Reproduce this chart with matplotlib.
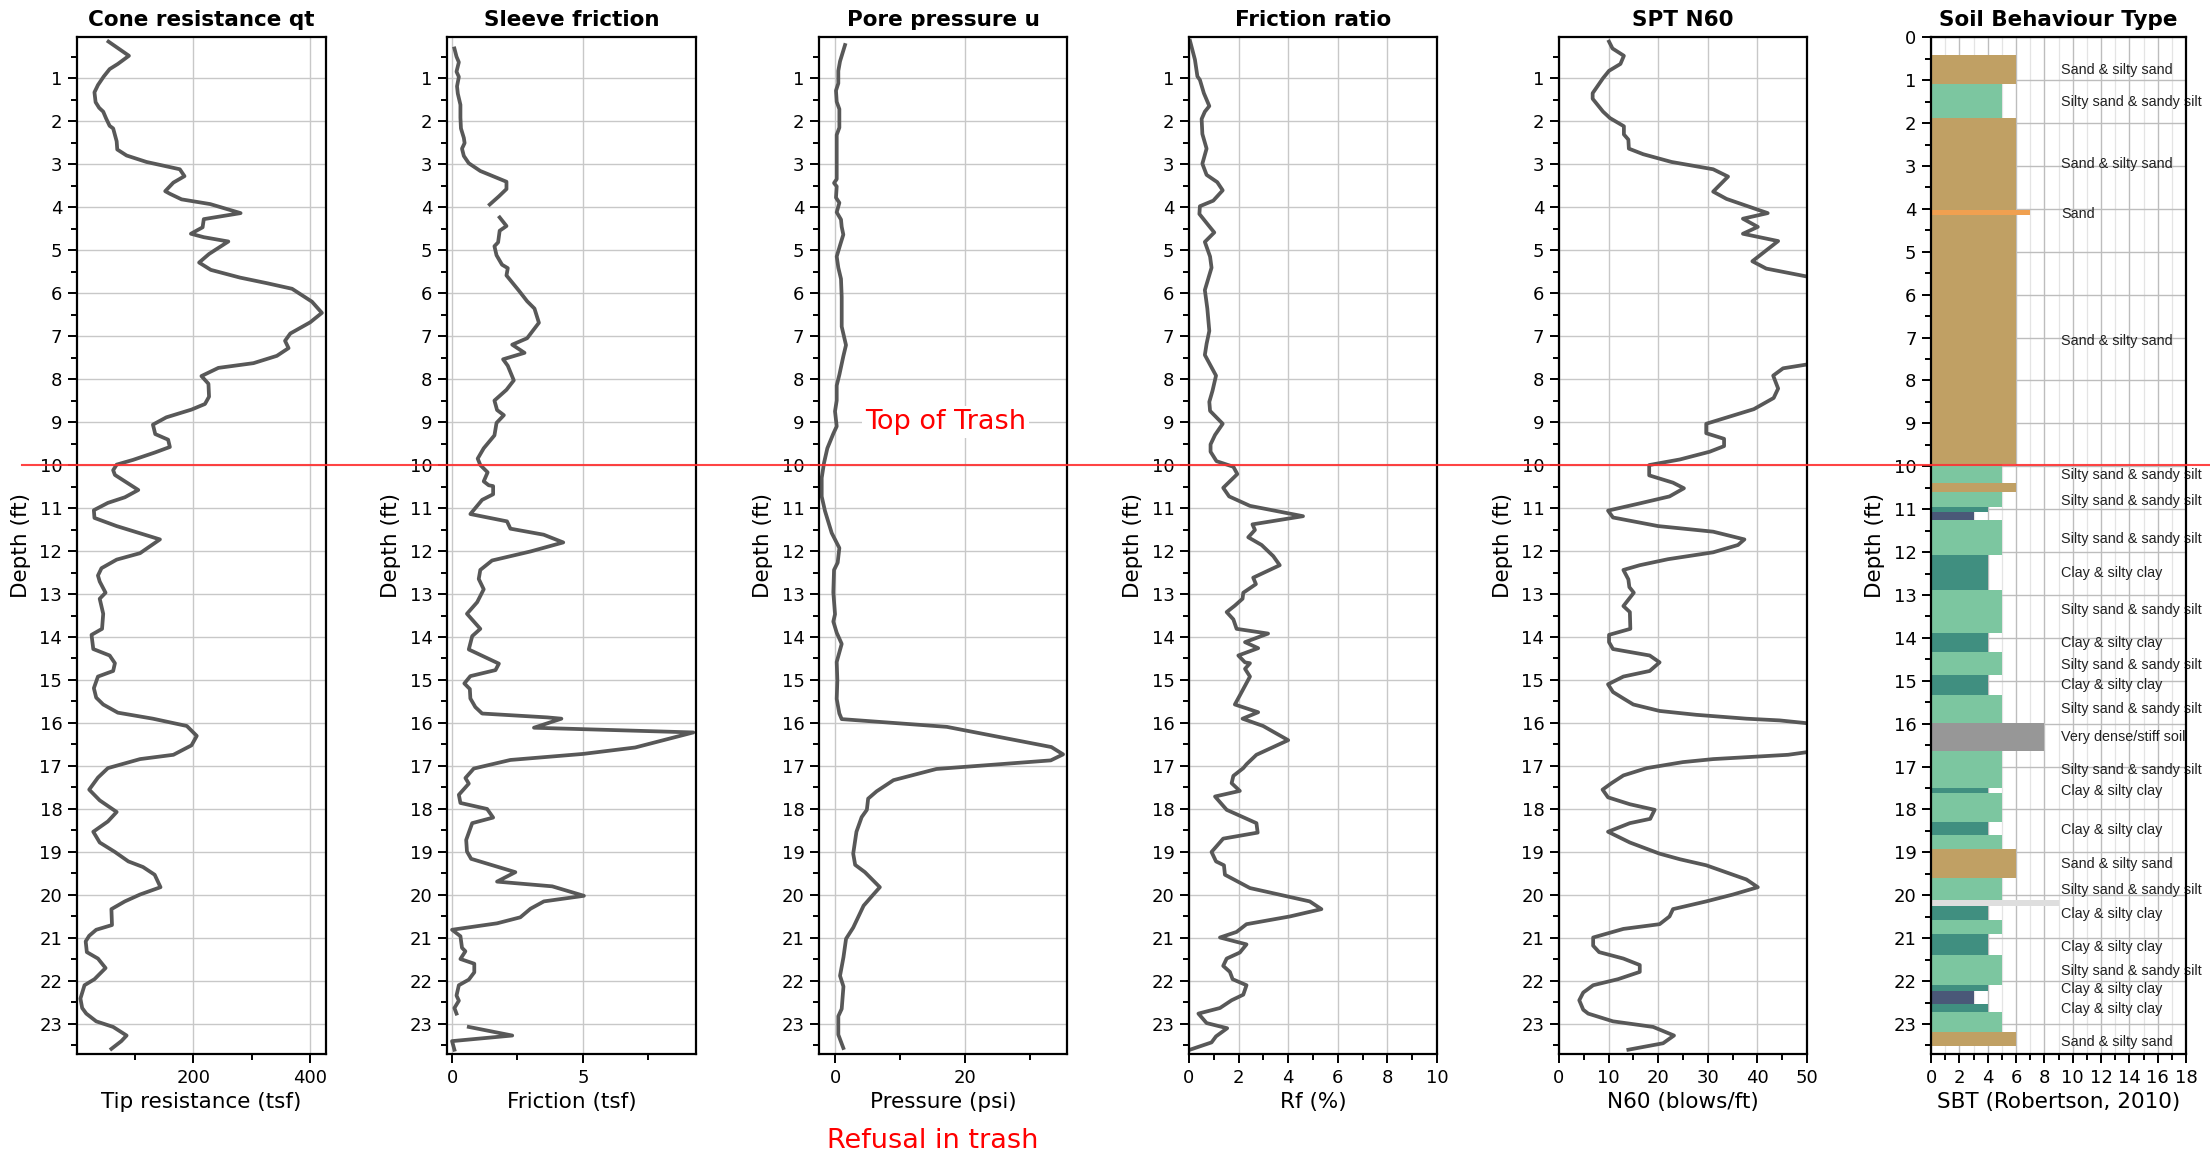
import numpy as np
import matplotlib
matplotlib.use("Agg")
import matplotlib.pyplot as plt
from matplotlib.ticker import MultipleLocator
from matplotlib.lines import Line2D

nan = np.nan

# Cone resistance qt (tsf)
qt_depth = [0.15, 0.48, 0.67, 0.79, 0.96, 1.16, 1.33, 1.56, 1.69, 1.78, 1.94, 2.11, 2.17, 2.47, 2.66,
            2.80, 2.95, 3.12, 3.28, 3.43, 3.63, 3.69, 3.82, 3.93, 4.14, 4.28, 4.47, 4.62, 4.70, 4.80,
            5.09, 5.29, 5.46, 5.64, 5.77, 5.90, 6.20, 6.46, 6.68, 6.94, 7.11, 7.28, 7.46, 7.63, 7.74,
            7.93, 8.11, 8.41, 8.58, 8.71, 8.89, 9.06, 9.28, 9.41, 9.58, 9.71, 9.88, 9.99, 10.12, 10.23,
            10.58, 10.75, 10.88, 11.05, 11.23, 11.42, 11.73, 12.05, 12.20, 12.40, 12.57, 12.71, 12.97,
            13.11, 13.46, 13.81, 13.95, 14.28, 14.43, 14.61, 14.79, 14.92, 15.19, 15.41, 15.57, 15.76,
            15.90, 16.07, 16.30, 16.52, 16.74, 16.84, 17.05, 17.27, 17.55, 17.80, 18.07, 18.29, 18.53,
            18.78, 19.00, 19.22, 19.35, 19.53, 19.82, 19.99, 20.15, 20.33, 20.70, 20.81, 20.95, 21.08,
            21.33, 21.48, 21.70, 21.96, 22.10, 22.41, 22.63, 22.76, 22.94, 23.07, 23.27, 23.40, 23.58]
qt_value = [55, 90, 71, 57, 47, 37, 31, 33, 39, 46, 51, 57, 63, 69, 70,
            86, 120, 177, 185, 166, 152, 160, 180, 229, 281, 218, 216, 196, 218, 260,
            227, 210, 230, 280, 326, 369, 403, 420, 400, 366, 357, 363, 343, 303, 243,
            214, 226, 227, 220, 197, 154, 131, 135, 157, 160, 134, 97, 69, 63, 66,
            106, 83, 54, 30, 31, 69, 143, 109, 69, 43, 37, 40, 50,
            40, 46, 44, 26, 29, 57, 66, 63, 37, 30, 34, 46, 71,
            131, 189, 206, 197, 166, 109, 54, 37, 22, 40, 69, 54, 29,
            40, 66, 89, 114, 134, 144, 109, 83, 60, 61, 34, 22, 16,
            18, 37, 50, 31, 14, 7, 10, 17, 34, 63, 86, 77, 60]

# Sleeve friction fs (tsf), nan = no reading
fs_depth = [0.31, 0.50, 0.63, 0.85, 0.97, 1.19, 1.36, 1.62, 1.92, 2.17, 2.39, 2.51, 2.64, 2.81, 2.98,
            3.16, 3.41, 3.58, 3.75, 3.94, 4.10, 4.24, 4.44, 4.55, 4.82, 4.91, 5.12, 5.34, 5.42, 5.59,
            5.94, 6.19, 6.36, 6.69, 7.05, 7.20, 7.39, 7.54, 7.69, 8.03, 8.25, 8.50, 8.72, 8.84, 9.02,
            9.31, 9.61, 9.85, 10.00, 10.17, 10.38, 10.47, 10.49, 10.68, 10.81, 11.14, 11.31, 11.48,
            11.62, 11.80, 12.01, 12.22, 12.44, 12.65, 12.89, 13.19, 13.46, 13.81, 13.98, 14.29, 14.62,
            14.77, 14.91, 15.08, 15.21, 15.43, 15.63, 15.78, 15.87, 15.90, 16.11, 16.22, 16.57, 16.72,
            16.86, 17.06, 17.28, 17.41, 17.67, 17.86, 18.00, 18.20, 18.33, 18.72, 18.99, 19.16, 19.47,
            19.69, 19.80, 20.02, 20.15, 20.32, 20.52, 20.66, 20.81, 20.96, 21.23, 21.31, 21.49, 21.60,
            21.80, 21.97, 22.10, 22.34, 22.46, 22.63, 22.76, 22.90, 23.07, 23.27, 23.40, 23.60]
fs_value = [0.09, 0.17, 0.26, 0.17, 0.26, 0.19, 0.22, 0.32, 0.32, 0.34, 0.45, 0.48, 0.38, 0.45, 0.64,
            1.08, 2.08, 2.08, 1.79, 1.44, nan, 1.82, 2.08, 1.82, 1.76, 1.62, 1.70, 1.91, 2.13, 2.08,
            2.55, 2.87, 3.15, 3.32, 2.87, 2.30, 2.77, 1.95, 2.13, 2.36, 2.08, 1.62, 1.72, 1.98, 1.70,
            1.62, 1.21, 0.98, 1.08, 1.36, 1.21, 1.40, 1.57, 1.57, 1.15, 0.70, 2.10, 2.23,
            3.50, 4.25, 3.00, 1.53, 1.08, 1.02, 1.21, 0.96, 0.57, 1.08, 0.77, 0.64, 1.79,
            1.66, 0.70, 0.47, 0.68, 0.70, 0.89, 1.15, 3.64, 4.18, 3.13, 9.22, 7.00, 5.00,
            2.23, 0.83, 0.51, 0.64, 0.26, 0.32, 1.34, 1.57, 0.77, 0.54, 0.57, 0.73, 2.42,
            1.72, 3.83, 5.04, 3.51, 3.00, 2.61, 1.72, 0.00, 0.32, 0.38, 0.51, 0.32, 0.85,
            0.85, 0.64, 0.26, 0.17, 0.26, 0.09, 0.17, nan, 0.64, 2.30, 0.00, 0.09]

# Pore pressure u (psi)
u_depth = [0.23, 0.61, 0.83, 1.12, 1.29, 1.55, 1.72, 2.15, 2.32, 2.66, 3.35, 3.44, 3.52, 3.78, 3.90,
           4.12, 4.29, 4.46, 4.64, 4.89, 5.15, 5.41, 5.67, 6.09, 6.78, 7.21, 7.47, 7.90, 8.15, 8.50,
           8.75, 9.10, 9.27, 9.61, 9.95, 10.30, 10.73, 11.07, 11.58, 11.93, 12.27, 12.44, 12.96, 13.47,
           13.64, 13.90, 14.16, 14.58, 15.01, 15.44, 15.78, 15.91, 16.09, 16.56, 16.73, 16.87, 17.07,
           17.33, 17.59, 17.76, 18.02, 18.19, 18.53, 19.04, 19.30, 19.47, 19.82, 19.99, 20.25, 20.76,
           21.02, 21.45, 21.88, 22.13, 22.65, 22.82, 23.25, 23.56]
u_value = [1.54, 0.77, 0.51, 0.51, 0.15, 0.26, 0.67, 0.67, 0.26, 0.26, 0.26, -0.15, 0.26, 0.15, 0.67,
           0.26, 0.92, 1.03, 1.28, 0.77, 0.26, 0.51, 0.92, 1.03, 1.03, 1.69, 1.28, 0.67, 0.26, 0.26,
           0.00, 0.26, -0.26, -1.18, -1.69, -2.05, -2.05, -1.54, -0.51, 0.67, 0.41, -0.15, -0.26, 0.00,
           -0.26, 0.26, 1.03, 0.26, 0.36, 0.26, 0.67, 1.03, 17.2, 33.3, 35.1, 33.2, 15.6,
           9.0, 6.4, 5.1, 4.9, 4.1, 3.3, 2.8, 3.1, 4.6, 6.9, 5.9, 4.4, 2.8,
           1.7, 1.3, 0.77, 1.3, 1.03, 0.51, 0.51, 1.28]

# Friction ratio Rf (%)
rf_depth = [0.13, 0.57, 0.96, 1.04, 1.35, 1.65, 1.78, 1.95, 2.30, 2.64, 2.99, 3.25, 3.42, 3.61, 3.85,
            3.98, 4.16, 4.42, 4.59, 4.81, 5.15, 5.41, 5.93, 6.36, 6.88, 7.18, 7.44, 7.92, 8.27, 8.53,
            8.74, 9.04, 9.30, 9.52, 9.69, 9.91, 10.04, 10.21, 10.53, 10.73, 10.95, 11.19, 11.38, 11.51,
            11.68, 11.86, 12.12, 12.33, 12.62, 12.77, 12.97, 13.11, 13.27, 13.42, 13.59, 13.81, 13.92,
            14.12, 14.26, 14.43, 14.59, 14.61, 14.74, 14.92, 15.36, 15.57, 15.75, 15.90, 16.07, 16.40,
            16.74, 16.96, 17.05, 17.23, 17.40, 17.58, 17.71, 18.02, 18.33, 18.55, 18.69, 19.00, 19.22,
            19.31, 19.53, 19.84, 20.15, 20.33, 20.50, 20.68, 20.86, 20.99, 21.15, 21.34, 21.48, 21.65,
            21.79, 21.96, 22.10, 22.32, 22.45, 22.63, 22.76, 22.98, 23.10, 23.29, 23.43, 23.60]
rf_value = [0.04, 0.24, 0.34, 0.44, 0.60, 0.82, 0.64, 0.51, 0.54, 0.71, 0.54, 0.71, 1.14, 1.36, 0.98,
            0.44, 0.42, 0.78, 1.02, 0.64, 0.85, 0.91, 0.64, 0.74, 0.82, 0.71, 0.64, 1.09, 0.95, 0.82,
            0.85, 1.36, 1.05, 0.87, 0.87, 1.11, 1.79, 1.95, 1.38, 1.62, 2.46, 4.60, 2.56, 2.66,
            2.39, 2.93, 3.40, 3.66, 2.59, 2.70, 2.19, 2.16, 1.85, 1.52, 1.79, 1.92, 3.19,
            2.26, 2.79, 1.99, 2.26, 2.46, 2.26, 2.46, 2.05, 1.85, 2.79, 2.16, 2.99, 4.00,
            2.72, 2.32, 2.19, 1.79, 1.72, 2.05, 1.05, 1.52, 2.72, 2.77, 1.38, 0.91, 1.09,
            1.41, 1.45, 2.46, 4.87, 5.34, 4.07, 2.32, 1.92, 1.25, 2.32, 2.05, 1.52, 1.38,
            1.65, 1.76, 2.32, 2.19, 1.72, 1.25, 0.38, 0.71, 1.54, 1.09, 0.91, 0.04]

# SPT N60 (blows/ft), readings above 50 run off the scale
n60_depth = [0.15, 0.31, 0.48, 0.67, 0.83, 1.00, 1.35, 1.48, 1.78, 1.93, 2.12, 2.31, 2.43, 2.64, 2.77,
             2.95, 3.12, 3.29, 3.64, 3.81, 4.14, 4.27, 4.46, 4.62, 4.79, 5.26, 5.43, 5.75, 6.10, 6.46,
             6.80, 7.20, 7.55, 7.75, 7.92, 8.22, 8.44, 8.70, 9.04, 9.26, 9.39, 9.56, 9.69, 9.87, 10.00,
             10.24, 10.41, 10.54, 10.73, 10.90, 11.06, 11.22, 11.42, 11.55, 11.73, 11.86, 12.03, 12.19,
             12.33, 12.44, 12.66, 12.84, 12.97, 13.28, 13.42, 13.81, 13.95, 14.12, 14.28, 14.43, 14.59,
             14.79, 14.92, 15.10, 15.28, 15.43, 15.57, 15.72, 15.81, 15.90, 15.94, 16.10, 16.30, 16.55,
             16.74, 16.84, 16.91, 17.05, 17.22, 17.40, 17.55, 17.73, 17.89, 18.02, 18.23, 18.33, 18.53,
             18.78, 19.04, 19.17, 19.31, 19.64, 19.82, 19.99, 20.15, 20.33, 20.50, 20.68, 20.79, 20.99,
             21.18, 21.33, 21.48, 21.63, 21.79, 21.96, 22.10, 22.27, 22.45, 22.67, 22.76, 22.94, 23.07,
             23.27, 23.45, 23.60]
n60_value = [10.1, 10.8, 13.1, 12.4, 10.1, 8.9, 6.8, 6.8, 8.9, 10.3, 13.1, 13.1, 14.0, 14.1, 17.0,
             22.7, 31.1, 34.1, 31.1, 33.8, 42.1, 37.1, 40.1, 37.1, 44.2, 39.0, 41.8, 56, 66, 72,
             68, 62, 56, 45.2, 43.2, 44.2, 43.3, 39.3, 29.7, 29.7, 33.3, 33.3, 30.4, 24.4, 18.2,
             18.2, 23.0, 25.2, 22.3, 16.0, 9.9, 10.9, 20.0, 31.1, 37.4, 36.1, 31.1, 22.0,
             16.3, 13.0, 14.0, 14.2, 15.1, 13.0, 14.3, 14.4, 10.1, 10.1, 10.9, 18.3, 20.3,
             18.3, 13.0, 9.9, 10.9, 13.0, 15.0, 20.3, 27.7, 37.8, 44.5, 58, 64, 58,
             46.2, 31.1, 25.0, 17.7, 13.0, 10.6, 8.8, 9.9, 14.3, 19.3, 18.4, 14.3, 9.9,
             14.3, 20.3, 24.4, 29.7, 37.8, 40.1, 35.1, 29.7, 23.0, 22.3, 20.3, 13.0, 6.9,
             6.9, 8.1, 13.0, 16.3, 16.3, 11.9, 6.9, 4.9, 4.1, 4.9, 5.9, 10.9, 19.0,
             23.2, 21.0, 14.0]

# Soil behaviour type layers (Robertson 2010 zone number)
sbt_top = [0.41, 1.085, 1.87, 4.02, 4.15, 9.94, 10.39, 10.6, 10.94, 11.07, 11.26, 12.07, 12.88,
           13.88, 14.32, 14.86, 15.32, 15.98, 16.64, 17.49, 17.62, 18.29, 18.6, 18.92, 19.6, 20.1,
           20.24, 20.57, 20.9, 21.4, 22.08, 22.22, 22.54, 22.73, 23.19]
sbt_base = sbt_top[1:] + [23.52]
sbt_zone = [6, 5, 6, 7, 6, 5, 6, 5, 4, 3, 5, 4, 5, 4, 5, 4, 5, 8, 5, 4, 5, 4, 5, 6, 5, 9,
            4, 5, 4, 5, 4, 3, 4, 5, 6]

sbt_label_depth = [0.76, 1.52, 2.95, 4.12, 7.07, 10.2, 10.81, 11.69, 12.49, 13.36, 14.11, 14.63,
                   15.10, 15.65, 16.32, 17.07, 17.58, 18.47, 19.27, 19.87, 20.44, 21.20, 21.76,
                   22.18, 22.65, 23.41]
sbt_label_text = ["Sand & silty sand", "Silty sand & sandy silt", "Sand & silty sand", "Sand",
                  "Sand & silty sand", "Silty sand & sandy silt", "Silty sand & sandy silt",
                  "Silty sand & sandy silt", "Clay & silty clay", "Silty sand & sandy silt",
                  "Clay & silty clay", "Silty sand & sandy silt", "Clay & silty clay",
                  "Silty sand & sandy silt", "Very dense/stiff soil", "Silty sand & sandy silt",
                  "Clay & silty clay", "Clay & silty clay", "Sand & silty sand",
                  "Silty sand & sandy silt", "Clay & silty clay", "Clay & silty clay",
                  "Silty sand & sandy silt", "Clay & silty clay", "Clay & silty clay",
                  "Sand & silty sand"]

trash_depth = 10.0

zone_colors = {3: '#4a5878', 4: '#408f80', 5: '#7cc6a0', 6: '#c0a064',
               7: '#f0a050', 8: '#979797', 9: '#dedede'}

line_color = '#585858'
grid_color = '#c8c8c8'

fig = plt.figure(figsize=(22.1, 11.58), dpi=100)

lefts = [0.0348, 0.2023, 0.3706, 0.5380, 0.7054, 0.8738]
widths = [0.1127, 0.1127, 0.1122, 0.1122, 0.1122, 0.1154]
bottom, height = 0.0898, 0.878

panels = [
    ("Cone resistance qt", "Tip resistance (tsf)", qt_depth, qt_value, (1, 427), 200, 100),
    ("Sleeve friction", "Friction (tsf)", fs_depth, fs_value, (-0.19, 9.33), 5, 2.5),
    ("Pore pressure u", "Pressure (psi)", u_depth, u_value, (-2.46, 35.7), 20, 10),
    ("Friction ratio", "Rf (%)", rf_depth, rf_value, (0, 10), 2, 1),
    ("SPT N60", "N60 (blows/ft)", n60_depth, n60_value, (0, 50), 10, 5),
]

axes = []
for i in range(6):
    ax = fig.add_axes([lefts[i], bottom, widths[i], height])
    ax.set_axisbelow(True)
    for sp in ax.spines.values():
        sp.set_linewidth(1.6)
    ax.yaxis.set_major_locator(MultipleLocator(1))
    ax.yaxis.set_minor_locator(MultipleLocator(0.5))
    ax.tick_params(which='major', direction='out', length=6.5, width=1.4, labelsize=13, pad=4)
    ax.tick_params(which='minor', direction='out', length=4.5, width=1.4)
    ax.set_ylabel("Depth (ft)", fontsize=15.5, labelpad=6)
    axes.append(ax)

for ax, (title, xlabel, d, v, xlim, major, minor) in zip(axes[:5], panels):
    ax.plot(v, d, color=line_color, lw=2.7)
    ax.set_xlim(*xlim)
    ax.set_ylim(23.7, 0.05)
    ax.xaxis.set_major_locator(MultipleLocator(major))
    ax.xaxis.set_minor_locator(MultipleLocator(minor))
    ax.grid(True, which='major', color=grid_color, lw=1.0)
    ax.set_title(title, fontsize=15.5, fontweight='bold', pad=8)
    ax.set_xlabel(xlabel, fontsize=15.5)

# SBT column
ax6 = axes[5]
mids = [(t + b) / 2 for t, b in zip(sbt_top, sbt_base)]
thick = [b - t for t, b in zip(sbt_top, sbt_base)]
ax6.barh(mids, sbt_zone, height=thick, color=[zone_colors[z] for z in sbt_zone],
         edgecolor='none', zorder=1)
for dep, txt in zip(sbt_label_depth, sbt_label_text):
    ax6.text(9.2, dep, txt, fontsize=10.4, family='Liberation Sans',
             color='#222222', ha='left', va='center', clip_on=False, zorder=2)
ax6.set_xlim(0, 18)
ax6.set_ylim(23.7, 0)
ax6.xaxis.set_major_locator(MultipleLocator(2))
ax6.xaxis.set_minor_locator(MultipleLocator(1))
ax6.grid(True, which='major', color='#bdbdbd', lw=1.0)
ax6.grid(True, which='minor', axis='x', color='#e4e4e4', lw=0.9)
ax6.set_title("Soil Behaviour Type", fontsize=15.5, fontweight='bold', pad=8)
ax6.set_xlabel("SBT (Robertson, 2010)", fontsize=15.5)

# annotations on the pore pressure log
ax3 = axes[2]
ax3.text(0.51, 9.0, "Top of Trash", transform=ax3.get_yaxis_transform(), color='red',
         fontsize=19.5, ha='center', va='center',
         bbox=dict(facecolor='white', edgecolor='none', pad=2))
ax3.text(0.46, -0.0855, "Refusal in trash", transform=ax3.transAxes, color='red',
         fontsize=19.5, ha='center', va='center')

# red line across the whole figure at the top of trash
y_disp = axes[0].transData.transform((axes[0].get_xlim()[0], trash_depth))
y_fig = fig.transFigure.inverted().transform(y_disp)[1]
fig.add_artist(Line2D([0.01, 1.0], [y_fig, y_fig], transform=fig.transFigure,
                      color='#ff3030', lw=1.5, alpha=0.9, zorder=10))

fig.savefig("out.png", dpi=100)
